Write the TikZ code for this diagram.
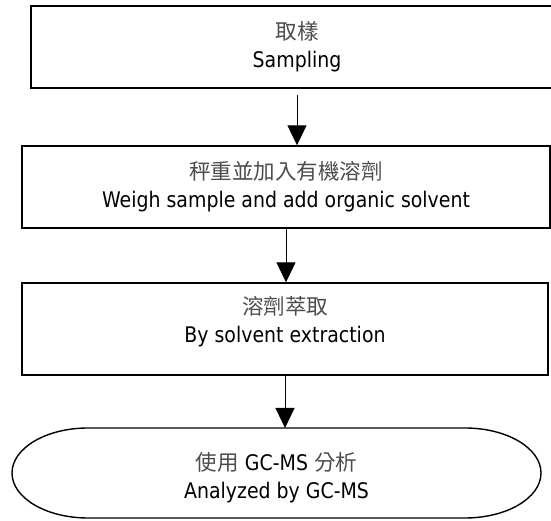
\documentclass[tikz,border=0pt]{standalone}
\usepackage{fontspec}
\setmainfont{DejaVu Sans}[FakeStretch=0.88]
\newfontfamily\cjk{Noto Sans CJK TC}
\usetikzlibrary{arrows.meta}
\begin{document}
\begin{tikzpicture}[x=1pt, y=1pt,
    stepbox/.style={draw, line width=1.4pt, align=center, inner sep=0pt,
      font=\fontsize{21.5}{28}\selectfont},
    steptext/.style={align=center, inner sep=0pt, font=\fontsize{21.5}{28}\selectfont},
    flow/.style={-{Triangle[length=20pt, width=19pt]}, line width=1pt}]
  \useasboundingbox (0,0) rectangle (551,521);
  \draw node[stepbox, minimum width=532pt, minimum height=82pt] (b1) at (297,474)
    {{\cjk\color{black!70}取樣}\\Sampling};
  \draw node[stepbox, minimum width=528pt, minimum height=82pt] (b2) at (286,334)
    {{\cjk\color{black!70}秤重並加入有機溶劑}\\Weigh sample and add organic solvent};
  \draw node[stepbox, minimum width=526pt, minimum height=92pt] (b3) at (285,192) {};
  \node[steptext] (b3t) at (285,199)
    {{\cjk\color{black!70}溶劑萃取}\\By solvent extraction};
  % end step
  \draw[line width=1.4pt] (88,93) -- (465,93)
    arc[start angle=90, end angle=-90, x radius=76pt, y radius=45pt] -- (88,3)
    arc[start angle=270, end angle=90, x radius=76pt, y radius=45pt] -- cycle;
  \node[steptext] (t4) at (276.5,43)
    {{\cjk\color{black!70}使用} GC-MS {\cjk\color{black!70}分析}\\Analyzed by GC-MS};
  \coordinate (t4top) at (287,93);
  \draw[flow, shorten <=6pt] (b1.south) -- (b1.south |- b2.north);
  \draw[flow] (b2.south) -- (b2.south |- b3.north);
  \draw[flow] (b3.south) -- (b3.south |- t4top);
\end{tikzpicture}
\end{document}
